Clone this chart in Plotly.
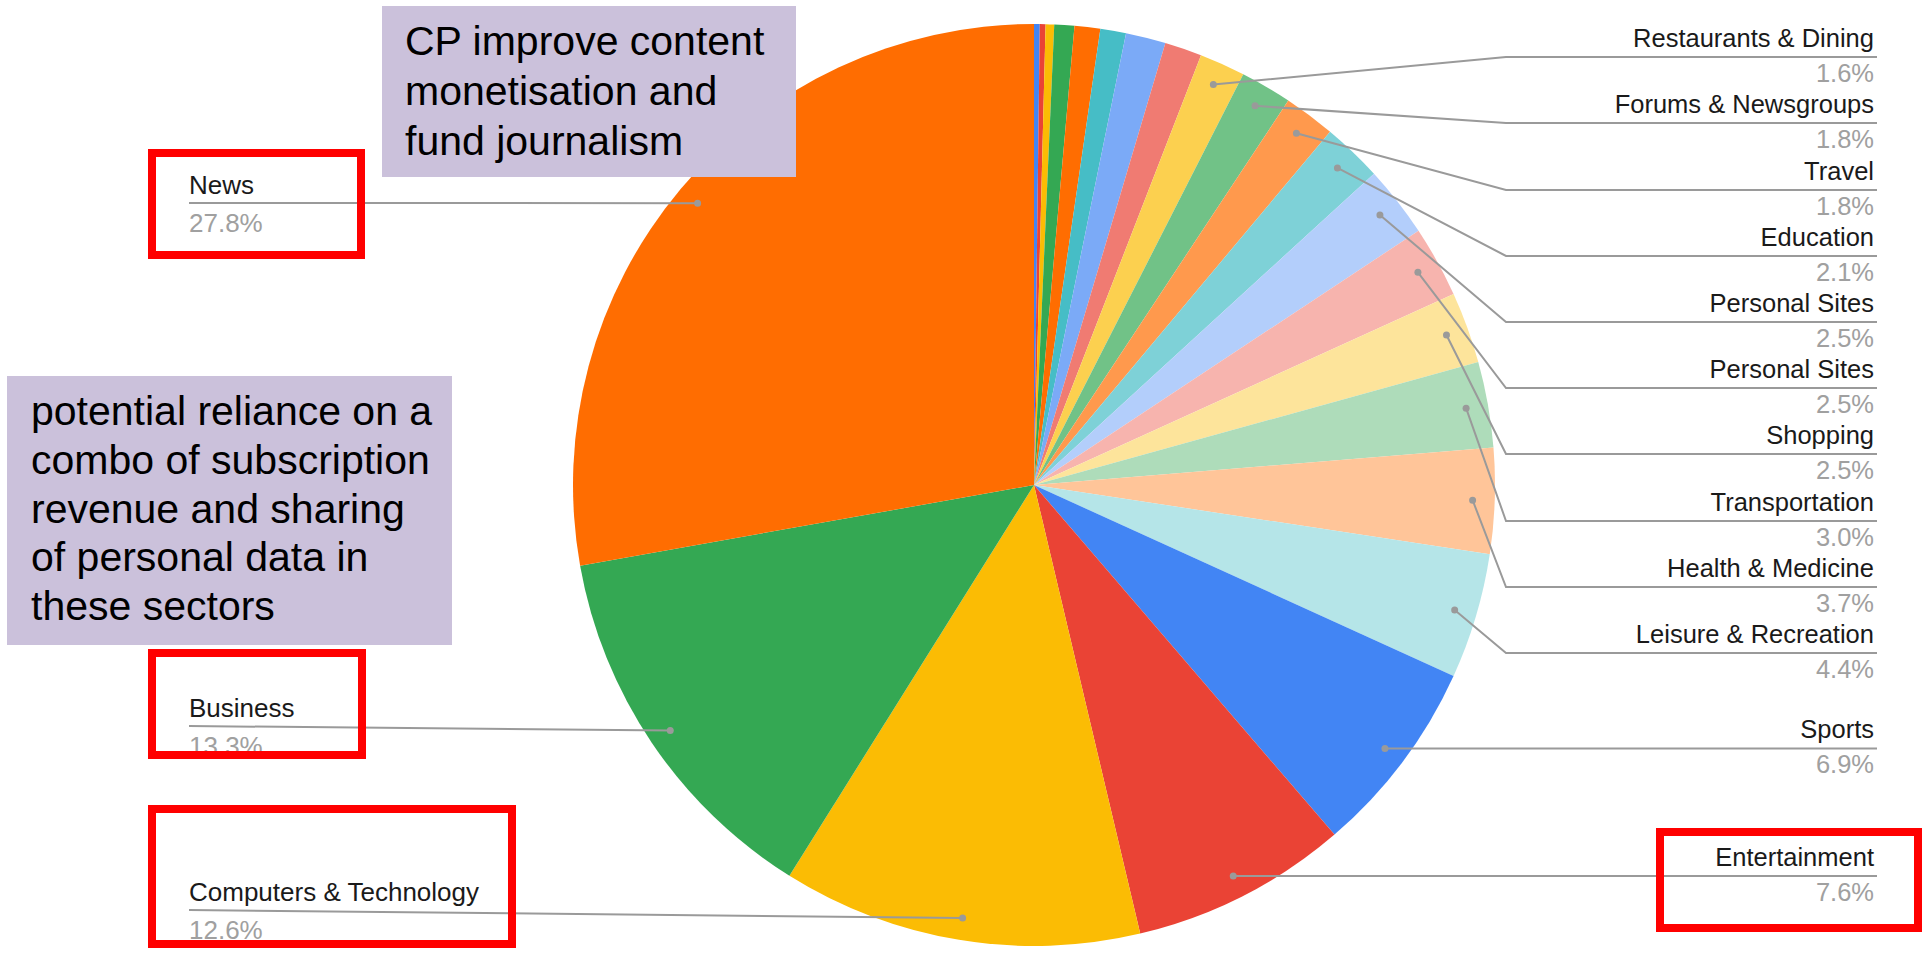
import math
import plotly.graph_objects as go

W, H = 1923, 955

# ---------------- data ----------------
# unlabelled small slices at the start (clockwise from 12 o'clock)
minor_values = [0.2, 0.2, 0.3, 0.7, 0.9, 0.9, 1.4, 1.3]
categories = ["Restaurants & Dining", "Forums & Newsgroups", "Travel", "Education",
              "Personal Sites", "Personal Sites", "Shopping", "Transportation",
              "Health & Medicine", "Leisure & Recreation", "Sports", "Entertainment",
              "Computers & Technology", "Business", "News"]
shares = [1.6, 1.8, 1.8, 2.1, 2.5, 2.5, 2.5, 3.0, 3.7, 4.4, 6.9, 7.6, 12.6, 13.3, 27.8]
pct_labels = [f"{v:.1f}%" for v in shares]

note_top = ["CP improve content", "monetisation and", "fund journalism"]
note_left = ["potential reliance on a", "combo of subscription", "revenue and sharing",
             "of personal data in", "these sectors"]
highlighted = ["News", "Business", "Computers & Technology", "Entertainment"]

# ---------------- styles / layout ----------------
palette = ["#4285F4", "#EA4335", "#FBBC04", "#34A853", "#FF6D01", "#46BDC6",
           "#7BAAF7", "#F07B72", "#FCD04F", "#71C287", "#FF994D", "#7ED1D7",
           "#B3CEFB", "#F7B4AE", "#FDE49B", "#AEDCBA", "#FFC599", "#B5E5E8"]
CX, CY, R = 1034, 485, 461
DOT_FRAC = 0.952
# y of the horizontal leader segment for each labelled slice (None = straight from dot)
label_line_y = [57, 123, 190, 256, 322, 388, 454, 521, 587, 653, None, None, 910, 726, 203]
RIGHT_TEXT_X, RIGHT_LINE_END, RIGHT_ELBOW = 1874, 1877, 1506
LEFT_TEXT_X = 189
FONT = "Liberation Sans, Arial, sans-serif"
LBL_SIZE_RIGHT = 25.5
LBL_SIZE_LEFT = 26
LINE_COL = "#9a9a9a"
NAME_COL = "#1a1a1a"
PCT_COL = "#a0a0a0"
PURPLE = "#CBC1DB"
RED = "#FF0000"
boxes_red = {  # outer pixel boxes of red highlight frames
    "News": (148, 149, 365, 259),
    "Business": (148, 649, 366, 759),
    "Computers & Technology": (148, 805, 516, 948),
    "Entertainment": (1656, 828, 1922, 932),
}
purple_top = (382, 6, 796, 177)
purple_left = (7, 376, 452, 645)

all_values = minor_values + shares
n = len(all_values)
colors = [palette[i % len(palette)] for i in range(n)]
total = sum(all_values)

fig = go.Figure()

# pie
fig.add_trace(go.Pie(
    values=all_values,
    hovertext=[f"other {i+1}" for i in range(len(minor_values))] + categories,
    hoverinfo="text+percent",
    sort=False, direction="clockwise", rotation=0,
    marker=dict(colors=colors, line=dict(width=0)),
    textinfo="none", showlegend=False,
    domain=dict(x=[(CX - R) / W, (CX + R) / W], y=[1 - (CY + R) / H, 1 - (CY - R) / H]),
))

# slice mid-angles -> anchor dots
cum = sum(minor_values)
dots = []
for v in shares:
    ang = math.radians(360 * (cum + v / 2) / total)
    cum += v
    dots.append((CX + DOT_FRAC * R * math.sin(ang), CY - DOT_FRAC * R * math.cos(ang)))

shapes = []
name_x, name_y, pct_y, side = [], [], [], []
for i, (dx, dy) in enumerate(dots):
    right = dx > CX
    ly = label_line_y[i] if label_line_y[i] is not None else dy
    if right:
        if label_line_y[i] is None:
            path = f"M {dx},{dy} L {RIGHT_LINE_END},{ly}"
        else:
            path = f"M {dx},{dy} L {RIGHT_ELBOW},{ly} L {RIGHT_LINE_END},{ly}"
        name_x.append(RIGHT_TEXT_X)
    else:
        path = f"M {LEFT_TEXT_X},{ly} L {dx},{dy}"
        name_x.append(LEFT_TEXT_X)
    shapes.append(dict(type="path", path=path, xref="x", yref="y", layer="above",
                       line=dict(color=LINE_COL, width=2)))
    shapes.append(dict(type="circle", xref="x", yref="y", layer="above",
                       x0=dx - 3.5, x1=dx + 3.5, y0=dy - 3.5, y1=dy + 3.5,
                       fillcolor=LINE_COL, line=dict(width=0)))
    name_y.append(ly - (16.5 if right else 15.5))
    pct_y.append(ly + (18.5 if right else 22.5))
    side.append(right)

# label texts as scatter text (below the red frames)
for want_right in (True, False):
    idx = [i for i in range(len(categories)) if side[i] == want_right]
    pos = "middle left" if want_right else "middle right"
    size = LBL_SIZE_RIGHT if want_right else LBL_SIZE_LEFT
    fig.add_trace(go.Scatter(
        x=[name_x[i] for i in idx], y=[name_y[i] for i in idx],
        text=[categories[i] for i in idx], mode="text", textposition=pos,
        textfont=dict(family=FONT, size=size, color=NAME_COL),
        hoverinfo="skip", showlegend=False, cliponaxis=False))
    fig.add_trace(go.Scatter(
        x=[name_x[i] for i in idx], y=[pct_y[i] for i in idx],
        text=[pct_labels[i] for i in idx], mode="text", textposition=pos,
        textfont=dict(family=FONT, size=size, color=PCT_COL),
        hoverinfo="skip", showlegend=False, cliponaxis=False))

# purple note boxes
for (x0, y0, x1, y1) in (purple_top, purple_left):
    shapes.append(dict(type="rect", xref="x", yref="y", layer="above",
                       x0=x0, x1=x1, y0=y0, y1=y1, fillcolor=PURPLE, line=dict(width=0)))

# red highlight frames
for name in highlighted:
    x0, y0, x1, y1 = boxes_red[name]
    shapes.append(dict(type="rect", xref="x", yref="y", layer="above",
                       x0=x0 + 4, x1=x1 - 4, y0=y0 + 4, y1=y1 - 4,
                       line=dict(color=RED, width=8), fillcolor="rgba(0,0,0,0)"))

annotations = []
for k, line in enumerate(note_top):
    annotations.append(dict(x=403, y=41 + 50 * k, xref="x", yref="y", text=line,
                            showarrow=False, xanchor="left", yanchor="middle",
                            font=dict(family=FONT, size=41, color="#000000")))
for k, line in enumerate(note_left):
    annotations.append(dict(x=29, y=411 + 48.8 * k, xref="x", yref="y", text=line,
                            showarrow=False, xanchor="left", yanchor="middle",
                            font=dict(family=FONT, size=41, color="#000000")))

fig.update_layout(
    width=W, height=H, margin=dict(l=0, r=0, t=0, b=0),
    paper_bgcolor="white", plot_bgcolor="rgba(0,0,0,0)",
    xaxis=dict(range=[0, W], visible=False, fixedrange=True),
    yaxis=dict(range=[H, 0], visible=False, fixedrange=True),
    shapes=shapes, annotations=annotations, showlegend=False,
)

fig.write_html("out.html")
